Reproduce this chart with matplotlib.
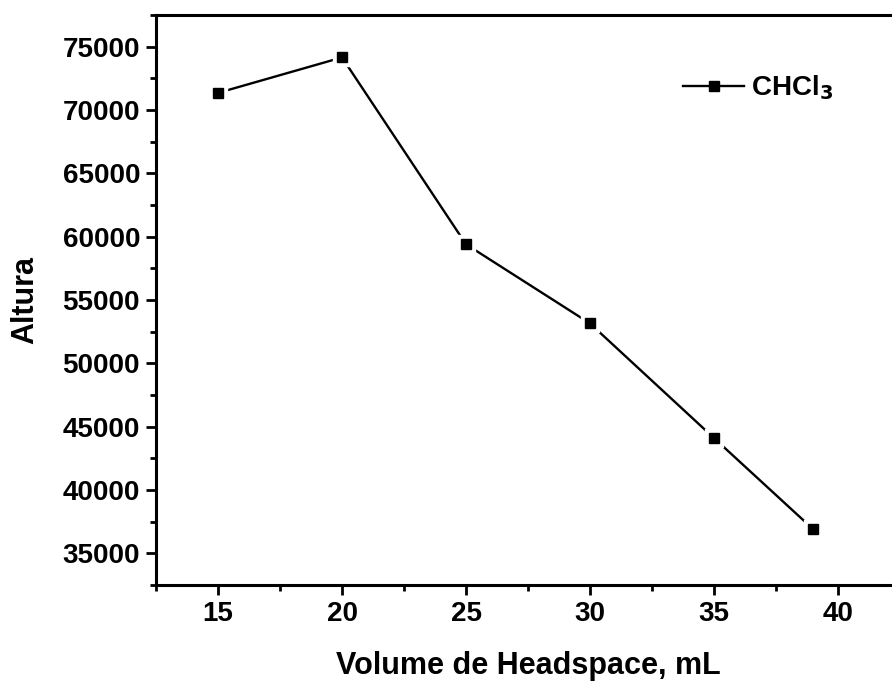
import matplotlib.pyplot as plt
from matplotlib.ticker import MultipleLocator

plt.rcParams['font.family'] = ['Liberation Sans', 'DejaVu Sans']
plt.rcParams['font.weight'] = 'bold'

volume = [15, 20, 25, 30, 35, 39]
altura = [71350, 74150, 59400, 53150, 44100, 36900]
serie = 'CHCl$_\\mathbf{3}$'

fig = plt.figure(figsize=(8.92, 6.84), dpi=100)
# eixo um pouco maior que a figura, a borda direita fica cortada como no original
ax = fig.add_axes([156 / 892, 1 - 585 / 684, 744 / 892, 570 / 684])

ax.plot(volume, altura, color='black', lw=1.7, zorder=2)
ax.plot(volume, altura, ls='none', marker='s', ms=13, color='white', zorder=3)
ax.plot(volume, altura, ls='none', marker='s', ms=7.5, color='black', zorder=4)

# entrada da legenda (linha - marcador - linha)
h, = ax.plot([], [], color='black', lw=1.7, marker='s', ms=7.5)

ax.set_xlim(12.5, 42.5)
ax.set_ylim(32500, 77500)
ax.xaxis.set_major_locator(MultipleLocator(5))
ax.xaxis.set_minor_locator(MultipleLocator(2.5))
ax.yaxis.set_major_locator(MultipleLocator(5000))
ax.yaxis.set_minor_locator(MultipleLocator(2500))

for s in ax.spines.values():
    s.set_linewidth(2.2)
ax.tick_params(which='major', direction='out', length=7.5, width=2, labelsize=20, pad=4)
ax.tick_params(which='minor', direction='out', length=4.5, width=2)

ax.set_xlabel('Volume de Headspace, mL', fontsize=22, fontweight='bold', labelpad=17)
ax.set_ylabel('Altura', fontsize=22, fontweight='bold', labelpad=16)

leg = fig.legend([h], [serie], loc='center left', bbox_to_anchor=(658 / 892, 1 - 88 / 684),
                 frameon=False, fontsize=20, handlelength=2.2, handletextpad=0.25)

fig.savefig('out.png', dpi=100)
